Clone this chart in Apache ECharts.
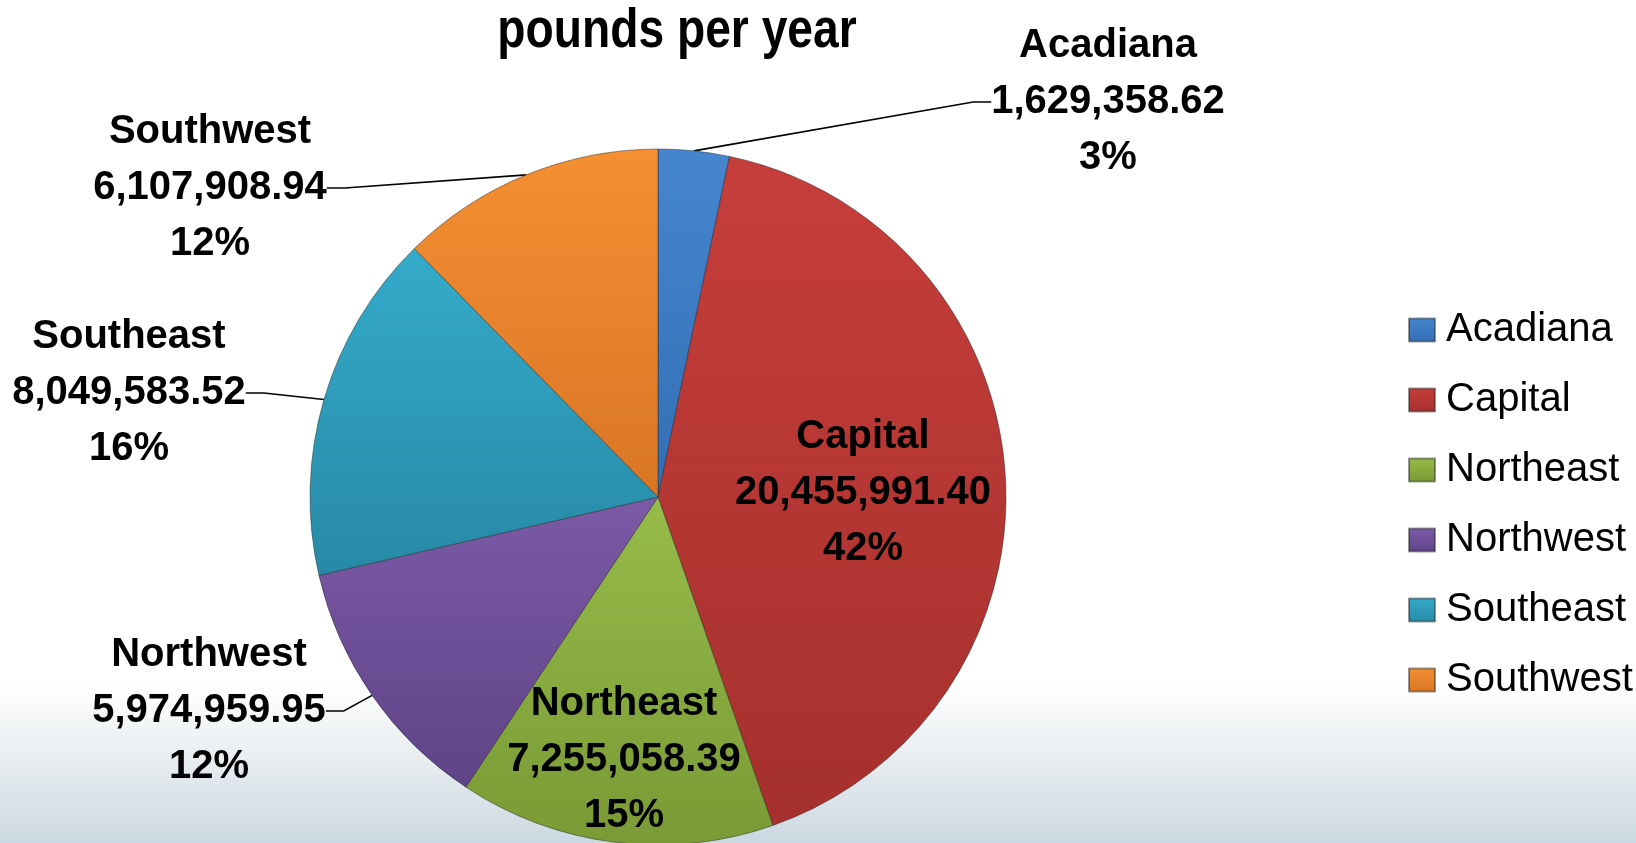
<!DOCTYPE html>
<html>
<head>
<meta charset="utf-8">
<script src="https://cdn.jsdelivr.net/npm/echarts@6/dist/echarts.min.js"></script>
<style>
  html, body { margin: 0; padding: 0; }
  #chart {
    width: 1636px; height: 843px;
    background: linear-gradient(to bottom, #ffffff 0%, #ffffff 81%, #e8edf0 90%, #cbd8e1 100%);
  }
</style>
</head>
<body>
<div id="chart"></div>
<script>
// ---- data ----
const titleText = 'pounds per year';
const categories = ['Acadiana', 'Capital', 'Northeast', 'Northwest', 'Southeast', 'Southwest'];
const values = [1629358.62, 20455991.40, 7255058.39, 5974959.95, 8049583.52, 6107908.94];

// ---- styles (kept separate from data) ----
const topColors = ['#4686cf', '#c63e3b', '#96bc4a', '#7b5aa6', '#34abca', '#f48f32'];
const bottomColors = ['#336eb3', '#a5302d', '#7a9a35', '#5f4487', '#2789a6', '#d97625'];
const insideLabels = ['Capital', 'Northeast'];
const labelCenters = {
  Acadiana: [1108, 102],
  Capital: [863, 493],
  Northeast: [624, 760],
  Northwest: [209, 711],
  Southeast: [129, 393],
  Southwest: [210, 188]
};
const fontFam = "'Liberation Sans', Arial, sans-serif";

function fmtNum(v) {
  const parts = v.toFixed(2).split('.');
  parts[0] = parts[0].replace(/\B(?=(\d{3})+(?!\d))/g, ',');
  return parts.join('.');
}

const seriesData = categories.map((name, i) => {
  const inside = insideLabels.indexOf(name) >= 0;
  return {
    name: name,
    value: values[i],
    itemStyle: {
      color: {
        type: 'linear', x: 0, y: 0, x2: 0, y2: 1,
        colorStops: [
          { offset: 0, color: topColors[i] },
          { offset: 1, color: bottomColors[i] }
        ]
      }
    },
    label: { position: inside ? 'inside' : 'outside' },
    labelLine: { show: !inside }
  };
});

const chart = echarts.init(document.getElementById('chart'), null, { renderer: 'canvas' });
chart.setOption({
  backgroundColor: 'transparent',
  animation: false,
  graphic: [{
    type: 'text',
    x: 677, y: 32,
    scaleX: 0.84,
    style: {
      text: titleText,
      fontFamily: fontFam,
      fontWeight: 'bold',
      fontSize: 55,
      fill: '#000',
      align: 'center',
      verticalAlign: 'middle'
    }
  }],
  legend: {
    orient: 'vertical',
    left: 1403,
    top: 302,
    itemWidth: 26,
    itemHeight: 23,
    itemGap: 24,
    icon: 'rect',
    data: categories,
    textStyle: {
      fontFamily: fontFam,
      fontSize: 40,
      lineHeight: 46,
      color: '#000',
      padding: [0, 0, 0, 6]
    }
  },
  series: [{
    type: 'pie',
    center: [658, 497],
    radius: 348,
    startAngle: 90,
    clockwise: true,
    percentPrecision: 0,
    avoidLabelOverlap: false,
    itemStyle: {
      borderColor: 'rgba(30,30,30,0.45)',
      borderWidth: 1
    },
    label: {
      show: true,
      color: '#000',
      fontFamily: fontFam,
      fontWeight: 'bold',
      fontSize: 40,
      lineHeight: 56,
      align: 'center',
      formatter: function (p) {
        return p.name + '\n' + fmtNum(p.value) + '\n' + p.percent + '%';
      }
    },
    labelLine: {
      show: true,
      length: 10,
      length2: 18,
      lineStyle: { color: '#000', width: 1.6 }
    },
    labelLayout: function (params) {
      const name = categories[params.dataIndex];
      const c = labelCenters[name];
      return { x: c[0], y: c[1], align: 'center', verticalAlign: 'middle' };
    },
    emphasis: { disabled: true },
    data: seriesData
  }]
});
</script>
</body>
</html>
